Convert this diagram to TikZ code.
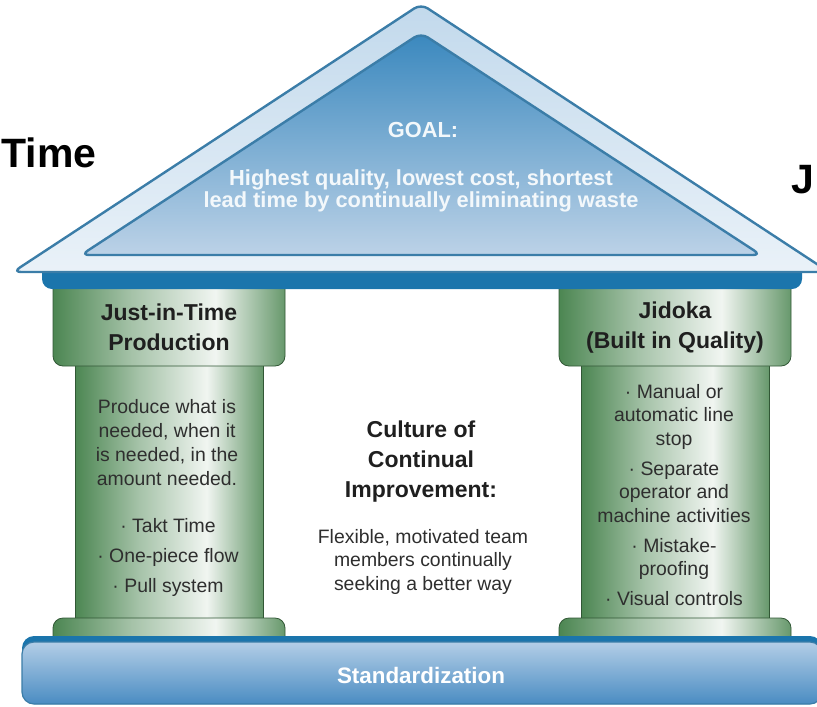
\documentclass[tikz,border=0pt]{standalone}
\usepackage{fontspec}
\setmainfont{Liberation Sans}
\usepackage{tikz}
\usetikzlibrary{shapes,% node shapes
positioning}
\definecolor{roofline}{HTML}{3B7DA8}
\definecolor{roofband}{HTML}{C2D9EC}
\definecolor{goaltop}{HTML}{3A88BE}
\definecolor{goalbottom}{HTML}{BCD2E7}
\definecolor{beamblue}{HTML}{1B75AC}
\definecolor{pgreen}{HTML}{4C8652}
\definecolor{slabtop}{HTML}{B3CEE7}
\definecolor{slabbottom}{HTML}{4A8CC2}
\definecolor{inkgray}{HTML}{2E2E2E}
\pgfdeclarehorizontalshading{pillarshade}{100bp}{color(0bp)=(pgreen); color(25bp)=(pgreen); color(42bp)=(pgreen!50!white); color(60bp)=(white!92!pgreen); color(75bp)=(pgreen!85!white); color(100bp)=(pgreen!85!white)}
\tikzset{every node/.style={inner sep=0pt, align=center},
  cuttext/.style={font=\fontsize{20.5}{24}\selectfont\bfseries, anchor=base west},
  rooftext/.style={font=\fontsize{10.9}{11}\selectfont\bfseries, text=white!94!goaltop},
  headtext/.style={font=\fontsize{11.5}{15}\selectfont\bfseries, text=black!88, anchor=north},
  bodytext/.style={font=\fontsize{9.7}{12}\selectfont, text=inkgray, anchor=north},
  pillarpart/.style={shading=pillarshade, draw=pgreen!65!black, line width=0.4pt}}

\begin{document}
\begin{tikzpicture}[x=0.5pt, y=-0.5pt]
  \useasboundingbox (0,0) rectangle (817,706);
  \clip (0,0) rectangle (817,706);
  % pillars: shaft, base, capital
  \foreach \cx in {169, 675} {
    \shadedraw[pillarpart] ({\cx-94},355) rectangle ({\cx+94},625);
    \shadedraw[pillarpart, rounded corners=5pt] ({\cx-116},618) rectangle ({\cx+116},660);
    \shadedraw[pillarpart, rounded corners=5pt] ({\cx-116},270) rectangle ({\cx+116},366);
  }
  \fill[beamblue, rounded corners=5pt] (42,262) rectangle (802,289);
  % roof
  \shadedraw[draw=roofline, line width=1.2pt, rounded corners=4pt, top color=roofband, bottom color=white!65!roofband]
    (13,272) -- (421,4) -- (829,272) -- cycle;
  \shadedraw[draw=roofline, line width=1.2pt, rounded corners=4pt, top color=goaltop, bottom color=goalbottom]
    (81,255) -- (421,33) -- (761,255) -- cycle;
  % foundation
  \fill[beamblue, rounded corners=6pt] (22,636) rectangle (822,704);
  \shadedraw[draw=roofline, line width=0.6pt, rounded corners=6pt, top color=slabtop, bottom color=slabbottom]
    (22,642) rectangle (822,704);

  \node[cuttext] (timecut) at (1,167) {Time};
  \node[cuttext] (jcut) at (791,193) {J};
  \node[rooftext, anchor=base] (goal) at (423,137) {GOAL:};
  \node[rooftext, anchor=north] (goaltext) at (421,169)
    {Highest quality, lowest cost, shortest\\lead time by continually eliminating waste};
  \node[headtext] (jithead) at (169,303) {Just-in-Time\\Production};
  \node[bodytext] (jittext) at (167,399)
    {Produce what is\\needed, when it\\is needed, in the\\amount needed.};
  \node[bodytext, font=\fontsize{9.7}{15}\selectfont] (jitlist) at (168,518)
    {·~Takt Time\\·~One-piece flow\\·~Pull system};
  \node[headtext] (jidokahead) at (675,301) {Jidoka\\(Built in Quality)};
  \node[bodytext, font=\fontsize{9.7}{11.75}\selectfont] (jidokalist) at (674,384)
    {·~Manual or\\automatic line\\stop\\[3.25pt]·~Separate\\operator and\\machine activities\\[3.25pt]·~Mistake-\\proofing\\[3.25pt]·~Visual controls};
  \node[headtext] (culturehead) at (421,420) {Culture of\\Continual\\Improvement:};
  \node[bodytext, font=\fontsize{9.7}{11.75}\selectfont] (culturetext) at (423,529)
    {Flexible, motivated team\\members continually\\seeking a better way};
  \node[font=\fontsize{11.2}{13}\selectfont\bfseries, text=white, anchor=base] (stdtext) at (421,683) {Standardization};
\end{tikzpicture}
\end{document}
